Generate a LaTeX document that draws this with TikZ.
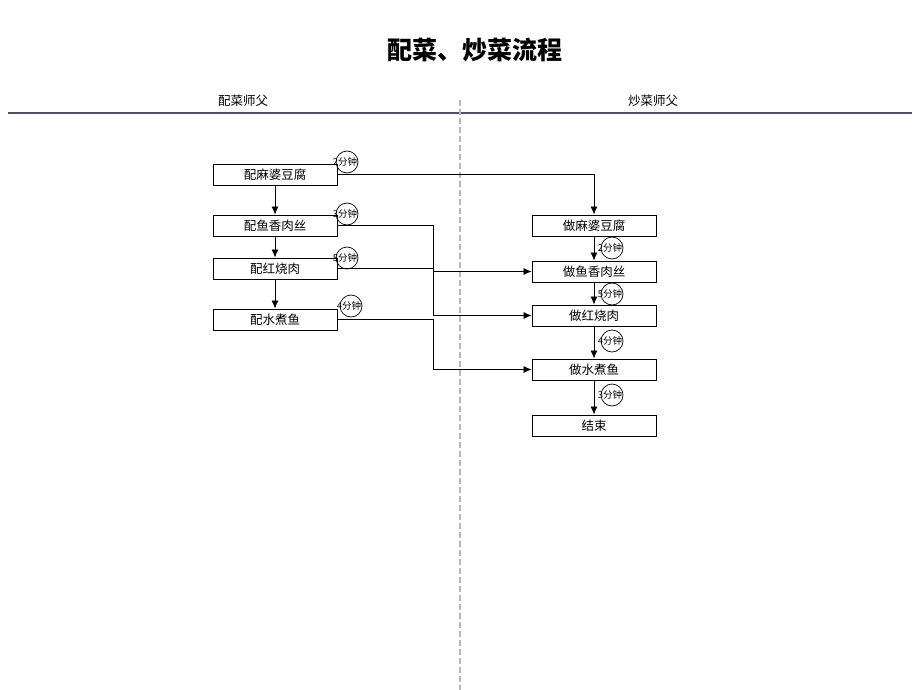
\documentclass[tikz,border=0pt]{standalone}
\usepackage{fontspec}
\setmainfont{Noto Sans CJK SC}
\usetikzlibrary{arrows.meta}

\definecolor{lanegray}{RGB}{190,180,190}
\definecolor{rulecolor}{RGB}{90,75,100}

\begin{document}
\begin{tikzpicture}[x = 1pt, y = -1pt,
    dish/.style = {draw, line width = 0.9pt, minimum width = 124pt, minimum height = 21pt, inner sep = 0pt, font = \fontsize{12.5}{12.5}\selectfont},
    timer/.style = {draw, line width = 0.7pt, circle, minimum size = 22pt, inner sep = 0pt},
    timetext/.style = {inner sep = 0pt, font = \fontsize{9.5}{9.5}\selectfont},
    flow/.style = {line width = 0.8pt, -{Latex[length=8pt, width=7pt]}}]
        \useasboundingbox (0,0) rectangle (920,690);
        % title and lanes
        \node[font = \fontsize{25}{25}\selectfont\bfseries] (title) at (475,50) {配菜、炒菜流程};
        \node[font = \fontsize{12.5}{12.5}\selectfont] (laneA) at (243,101) {配菜师父};
        \node[font = \fontsize{12.5}{12.5}\selectfont] (laneB) at (653,101) {炒菜师父};
        \draw[rulecolor, line width = 1.6pt] (8,113) -- (912,113);
        \draw[lanegray, line width = 1.2pt, dash pattern = on 6pt off 3pt] (460,100) -- (460,690);
        % prep column
        \node[dish] (ps1) at (275,174.5) {配麻婆豆腐};
        \node[dish] (ps2) at (275,225.5) {配鱼香肉丝};
        \node[dish] (ps3) at (275,268.5) {配红烧肉};
        \node[dish] (ps4) at (275,319.5) {配水煮鱼};
        % cook column
        \node[dish] (ds1) at (594,225.5) {做麻婆豆腐};
        \node[dish] (ds2) at (594,271.5) {做鱼香肉丝};
        \node[dish] (ds3) at (594,315.5) {做红烧肉};
        \node[dish] (ds4) at (594,369.5) {做水煮鱼};
        \node[dish] (ds5) at (594,425.5) {结束};
        \draw[flow] (ps1) -- (ps2);
        \draw[flow] (ps2) -- (ps3);
        \draw[flow] (ps3) -- (ps4);
        \draw[flow] (ds1) -- (ds2);
        \draw[flow] (ds2) -- (ds3);
        \draw[flow] (ds3) -- (ds4);
        \draw[flow] (ds4) -- (ds5);
        \draw[flow] (ps1.east) -| (ds1.north);
        \draw[flow] (ps2.east) -- ++(96,0) |- (ds3.west);
        \draw[flow] (ps3.east) -- ++(96,0) |- (ds2.west);
        \draw[flow] (ps4.east) -- ++(96,0) |- (ds4.west);
        % times
        \node[timer] (tp1) at (347,162) {};
        \node[timer] (tp2) at (347,214) {};
        \node[timer] (tp3) at (347,258) {};
        \node[timer] (tp4) at (351,306) {};
        \node[timer] (td1) at (612,248) {};
        \node[timer] (td2) at (612,294) {};
        \node[timer] (td3) at (612,341) {};
        \node[timer] (td4) at (612,395) {};
        \node[timetext] at ([xshift=-2pt]tp1) {2分钟};
        \node[timetext] at ([xshift=-2pt]tp2) {3分钟};
        \node[timetext] at ([xshift=-2pt]tp3) {5分钟};
        \node[timetext] at ([xshift=-2pt]tp4) {4分钟};
        \node[timetext] at ([xshift=-2pt]td1) {2分钟};
        \node[timetext] at ([xshift=-2pt]td2) {5分钟};
        \node[timetext] at ([xshift=-2pt]td3) {4分钟};
        \node[timetext] at ([xshift=-2pt]td4) {3分钟};
\end{tikzpicture}
\end{document}
